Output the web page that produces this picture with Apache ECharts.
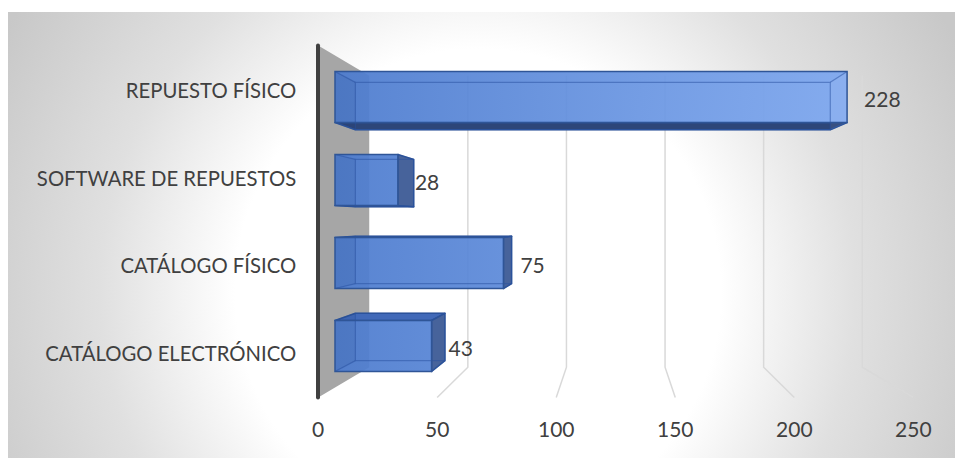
<!DOCTYPE html>
<html><head><meta charset="utf-8">
<script src="https://cdn.jsdelivr.net/npm/echarts@6/dist/echarts.min.js"></script>
<style>html,body{margin:0;padding:0;background:#fff}#c{width:955px;height:458px}</style>
</head><body><div id="c"></div>
<script>
// ---- data ----
const categories = ['CATÁLOGO ELECTRÓNICO', 'CATÁLOGO FÍSICO', 'SOFTWARE DE REPUESTOS', 'REPUESTO FÍSICO'];
const values = [43, 75, 28, 228];
const axisMin = 0, axisMax = 250, axisStep = 50;
const tickValues = [0, 50, 100, 150, 200, 250];

// ---- layout / perspective ----
const FRONT = {left: 335, top: 55.5, width: 561.5, height: 332};
const K_FLOOR = 1.06, K_BACK = 0.9274, K_WALL = 0.878;
const BAR_RATIO = 0.615;
const cx = FRONT.left + FRONT.width / 2, cy = FRONT.top + FRONT.height / 2;
const FLOOR = {
  left: cx - (FRONT.width / 2) * K_FLOOR,
  top: cy - (FRONT.height / 2) * K_FLOOR,
  width: FRONT.width * K_FLOOR,
  height: FRONT.height * K_FLOOR
};
const TXT = '#404040';
const FONT = 'Lato';

function persp(cs) {
  const vx = cs.x + cs.width / 2, vy = cs.y + cs.height / 2;
  return (x, y, k) => [vx + (x - vx) * k, vy + (y - vy) * k];
}

function renderWall(params, api) {
  const t = api.value(0);
  const cs = params.coordSys;
  const P = persp(cs);
  const x = api.coord([t, 0])[0];
  const top = cs.y, bot = cs.y + cs.height;
  if (t === axisMin) {
    return {type: 'polygon', shape: {points: [P(x, top, K_FLOOR), P(x, top, K_WALL), P(x, bot, K_WALL), P(x, bot, K_FLOOR)]},
      style: {fill: '#a6a6a6'}};
  }
  return {type: 'polyline', shape: {points: [P(x, top, K_WALL), P(x, bot, K_WALL), P(x, bot, K_FLOOR)]},
    style: {stroke: '#d9d9d9', lineWidth: 1.5, fill: null}};
}

const frontFill = {type: 'linear', global: true, x: 335, y: 0, x2: 850, y2: 0,
  colorStops: [{offset: 0, color: 'rgba(76,123,206,0.93)'}, {offset: 1, color: 'rgba(126,168,240,0.93)'}]};
const EDGE = '#2f5597';

function renderBar(params, api) {
  const v = api.value(0), c = api.value(1);
  const cs = params.coordSys;
  const P = persp(cs);
  const p0 = api.coord([axisMin, c]), p1 = api.coord([v, c]);
  const band = api.size([0, 1])[1];
  const h = band * BAR_RATIO / 2;
  const l = p0[0], r = p1[0], t = p1[1] - h, b = p1[1] + h;
  const F = {tl: [l, t], tr: [r, t], br: [r, b], bl: [l, b]};
  const B = {tl: P(l, t, K_BACK), tr: P(r, t, K_BACK), br: P(r, b, K_BACK), bl: P(l, b, K_BACK)};
  const showTop = B.tl[1] < t, showBottom = B.bl[1] > b, showRight = B.tr[0] > r;
  const ch = [];
  const poly = (pts, style) => ch.push({type: 'polygon', shape: {points: pts}, style});
  const line = (a, z, style) => ch.push({type: 'line', shape: {x1: a[0], y1: a[1], x2: z[0], y2: z[1]}, style});
  // visible side faces
  if (showTop) poly([F.tl, F.tr, B.tr, B.tl], {fill: '#4169b8', stroke: EDGE, lineWidth: 1.5, lineJoin: 'round'});
  if (showBottom) poly([F.bl, F.br, B.br, B.bl], {fill: '#2d4679', stroke: EDGE, lineWidth: 1.5, lineJoin: 'round'});
  if (showRight) poly([F.tr, B.tr, B.br, F.br], {fill: '#47639b', stroke: EDGE, lineWidth: 1.5, lineJoin: 'round'});
  // front face
  poly([F.tl, F.tr, F.br, F.bl], {fill: frontFill, stroke: null});
  // hidden structure seen through
  poly([F.tl, B.tl, B.bl, F.bl], {fill: 'rgba(25,55,120,0.10)'});
  if (!showRight) poly([F.tr, B.tr, B.br, F.br], {fill: 'rgba(255,255,255,0.06)'});
  const inner = {stroke: 'rgba(40,80,160,0.5)', lineWidth: 1.2};
  poly([B.tl, B.tr, B.br, B.bl], Object.assign({fill: null}, inner));
  line(F.tl, B.tl, inner); line(F.bl, B.bl, inner); line(F.tr, B.tr, inner); line(F.br, B.br, inner);
  // front outline
  poly([F.tl, F.tr, F.br, F.bl], {fill: null, stroke: EDGE, lineWidth: 1.5});
  // value label
  ch.push({type: 'text', style: {text: String(v), x: r + 17, y: p1[1] + 1, align: 'left', verticalAlign: 'middle',
    fill: TXT, fontSize: 21, fontFamily: FONT}});
  return {type: 'group', children: ch};
}

const chart = echarts.init(document.getElementById('c'), null, {renderer: 'svg'});
chart.setOption({
  animation: false,
  backgroundColor: '#ffffff',
  graphic: [{
    type: 'rect', left: 8, top: 12, z: -10, silent: true,
    shape: {width: 947, height: 446},
    style: {fill: {type: 'radial', global: true, x: 470, y: 280, r: 540,
      colorStops: [{offset: 0, color: '#ffffff'}, {offset: 0.45, color: '#ffffff'}, {offset: 0.7, color: '#e0e0e0'}, {offset: 1, color: '#c8c8c8'}]}}
  }],
  grid: [
    {left: FRONT.left, top: FRONT.top, width: FRONT.width, height: FRONT.height},
    {left: FLOOR.left, top: FLOOR.top, width: FLOOR.width, height: FLOOR.height}
  ],
  xAxis: [
    {gridIndex: 0, type: 'value', min: axisMin, max: axisMax, interval: axisStep, show: false},
    {gridIndex: 1, type: 'value', min: axisMin, max: axisMax, interval: axisStep,
      axisLine: {show: false}, axisTick: {show: false}, splitLine: {show: false},
      axisLabel: {color: TXT, fontSize: 21, fontFamily: FONT, margin: 21}}
  ],
  yAxis: [
    {gridIndex: 0, type: 'category', data: categories, show: false},
    {gridIndex: 1, type: 'category', data: categories, z: 5,
      axisLine: {show: true, lineStyle: {color: '#404040', width: 4}},
      axisTick: {show: false}, splitLine: {show: false},
      axisLabel: {color: TXT, fontSize: 20.3, fontFamily: FONT, margin: 22}}
  ],
  series: [
    {type: 'custom', name: 'walls', xAxisIndex: 0, yAxisIndex: 0, z: 1, silent: true,
      data: tickValues.map(t => [t, 0]), encode: {x: 0, y: 1}, renderItem: renderWall},
    {type: 'custom', name: 'bars', xAxisIndex: 0, yAxisIndex: 0, z: 3,
      data: values.map((v, i) => [v, i]), encode: {x: 0, y: 1}, renderItem: renderBar}
  ]
});
</script></body></html>
